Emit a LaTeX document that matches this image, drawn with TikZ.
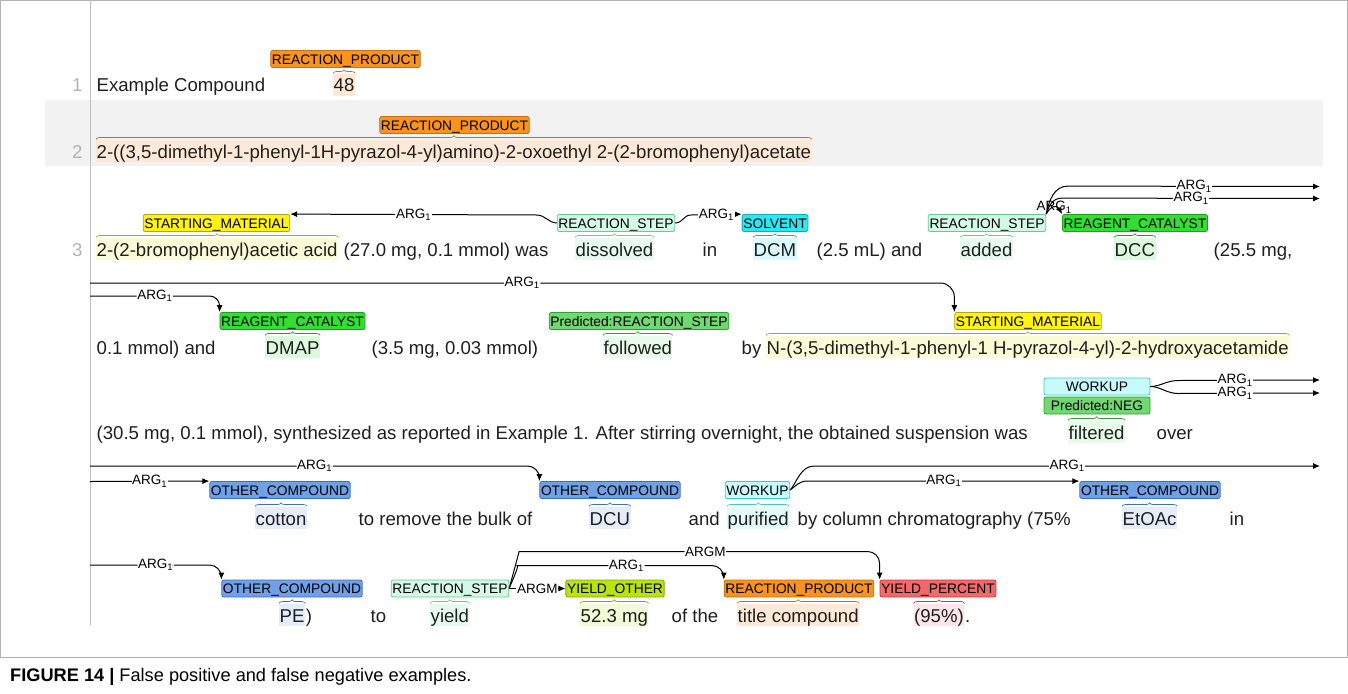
\documentclass[tikz,border=0pt]{standalone}
\usepackage{fontspec}
\setmainfont{Liberation Sans}
\usetikzlibrary{decorations.pathreplacing, arrows.meta}
\newcommand{\txtsize}{\fontsize{18.6}{20}\selectfont}
\newcommand{\lblsize}{\fontsize{13.8}{15}\selectfont}
\newcommand{\argsize}{\fontsize{13.5}{14}\selectfont}
\newcommand{\argone}{ARG\textsubscript{1}}

\definecolor{rpfill}{RGB}{247,147,30}  \definecolor{rpline}{RGB}{196,112,24}  \definecolor{hlrp}{RGB}{253,233,214}
\definecolor{smfill}{RGB}{255,242,20}  \definecolor{smline}{RGB}{176,166,20}  \definecolor{hlsm}{RGB}{252,251,216}
\definecolor{rsfill}{RGB}{214,248,230} \definecolor{rsline}{RGB}{90,210,140}  \definecolor{hlrs}{RGB}{232,250,240}
\definecolor{svfill}{RGB}{40,232,242}  \definecolor{svline}{RGB}{20,170,190}  \definecolor{hlsv}{RGB}{218,249,252}
\definecolor{rcfill}{RGB}{50,222,50}   \definecolor{rcline}{RGB}{30,160,30}   \definecolor{hlrc}{RGB}{222,250,222}
\definecolor{prfill}{RGB}{112,216,112} \definecolor{prline}{RGB}{50,160,50}   \definecolor{hlpr}{RGB}{232,250,232}
\definecolor{wkfill}{RGB}{200,250,250} \definecolor{wkline}{RGB}{60,206,206}  \definecolor{hlwk}{RGB}{226,250,248}
\definecolor{ocfill}{RGB}{112,160,230} \definecolor{ocline}{RGB}{60,110,200}  \definecolor{hloc}{RGB}{230,237,250}
\definecolor{yofill}{RGB}{186,226,20}  \definecolor{yoline}{RGB}{130,170,0}   \definecolor{hlyo}{RGB}{242,250,216}
\definecolor{ypfill}{RGB}{240,106,106} \definecolor{ypline}{RGB}{200,60,60}   \definecolor{hlyp}{RGB}{252,230,232}

\begin{document}
\begin{tikzpicture}[x=1pt,y=-1pt]
\tikzstyle{txt}=[anchor=base west, inner xsep=0.5pt, inner ysep=2.5pt, text height=16pt, text depth=1pt, font=\txtsize, text=black!88]
\tikzstyle{lno}=[anchor=base east, font=\txtsize, text=gray!60]
\tikzstyle{lbl}=[rectangle, rounded corners=2pt, line width=0.8pt, inner xsep=1.2pt, inner ysep=0pt,
                 minimum height=17pt, text height=10pt, text depth=0pt, font=\lblsize]
\tikzstyle{argl}=[fill=white, inner sep=0.6pt, font=\argsize]
\tikzstyle{arc}=[line width=1pt, -{Latex[length=7pt,width=6pt]}]
\tikzstyle{brc}=[line width=0.7pt, decorate, decoration={brace, amplitude=3.5pt}]

\useasboundingbox (0,0) rectangle (1348,693);
\draw[gray!60] (0.5,0.5) rectangle (1347.5,657);
\fill[gray!10] (45,100) rectangle (1323,166);
\draw[gray!50] (90,0.5) -- (90,625);

% line 1
\node[lno] (n1) at (86,92) {1};
\node[txt] (t1a) at (96,92) {Example Compound};
\node[txt, fill=hlrp] (t1b) at (333,92) {48};
\node[lbl, fill=rpfill, draw=rpline] (rp1) at (345.5,59) {REACTION\_PRODUCT};
\draw[brc, rpline] (t1b.north west) -- (t1b.north east);

% line 2
\node[lno] (n2) at (86,158) {2};
\node[txt, fill=hlrp] (t2a) at (96,158) {2-((3,5-dimethyl-1-phenyl-1H-pyrazol-4-yl)amino)-2-oxoethyl 2-(2-bromophenyl)acetate};
\node[lbl, fill=rpfill, draw=rpline] (rp2) at (454.5,125) {REACTION\_PRODUCT};
\draw[brc, rpline] (t2a.north west) -- (t2a.north east);

% line 3
\node[lno] (n3) at (86,256) {3};
\node[txt, fill=hlsm] (t3a) at (96,256) {2-(2-bromophenyl)acetic acid};
\node[txt] (t3b) at (343,256) {(27.0 mg, 0.1 mmol) was};
\node[txt, fill=hlrs] (t3c) at (575,256) {dissolved};
\node[txt] (t3d) at (702,256) {in};
\node[txt, fill=hlsv] (t3e) at (753,256) {DCM};
\node[txt] (t3f) at (816,256) {(2.5 mL) and};
\node[txt, fill=hlrs] (t3g) at (960,256) {added};
\node[txt, fill=hlrc] (t3h) at (1114,256) {DCC};
\node[txt] (t3i) at (1213,256) {(25.5 mg,};
\node[lbl, fill=smfill, draw=smline] (sm1) at (216.5,223) {STARTING\_MATERIAL};
\node[lbl, fill=rsfill, draw=rsline] (rs1) at (616,223) {REACTION\_STEP};
\node[lbl, fill=svfill, draw=svline] (sv1) at (775,223) {SOLVENT};
\node[lbl, fill=rsfill, draw=rsline] (rs2) at (987,223) {REACTION\_STEP};
\node[lbl, fill=rcfill, draw=rcline] (rc1) at (1135,223) {REAGENT\_CATALYST};
\draw[brc, smline] (t3a.north west) -- (t3a.north east);
\draw[brc, rsline] (t3c.north west) -- (t3c.north east);
\draw[brc, svline] (t3e.north west) -- (t3e.north east);
\draw[brc, rsline] (t3g.north west) -- (t3g.north east);
\draw[brc, rcline] (t3h.north west) -- (t3h.north east);
\coordinate (r3o1) at (1320,186.5);
\coordinate (r3o2) at (1320,198.5);
\draw[arc] (rs1.west) .. controls +(-8,0) and +(8,0) .. ++(-20,-8) -- node[argl]{\argone} (sm1.north east);
\draw[arc] (rs1.east) .. controls +(8,0) and +(-8,0) .. ++(16,-8) -- node[argl]{\argone} (sv1.north west);
\draw[arc] (rs2.north east) .. controls +(3,-14) and +(-14,0) .. ++(22,-28) -- node[argl]{\argone} (r3o1);
\draw[arc] (rs2.north east) .. controls +(3,-8) and +(-10,0) .. ++(16,-16) -- node[argl]{\argone} (r3o2);
\draw[arc] (rs2.north east) .. controls +(5,-9) and +(-5,-9) .. node[argl, fill=none, pos=0.5]{\argone} (rc1.north west);

% line 3, second row
\node[txt] (t4a) at (96,354) {0.1 mmol) and};
\node[txt, fill=hlrc] (t4b) at (265,354) {DMAP};
\node[txt] (t4c) at (371,354) {(3.5 mg, 0.03 mmol)};
\node[txt, fill=hlpr] (t4d) at (603,354) {followed};
\node[txt] (t4e) at (741,354) {by};
\node[txt, fill=hlsm] (t4f) at (766,354) {N-(3,5-dimethyl-1-phenyl-1 H-pyrazol-4-yl)-2-hydroxyacetamide};
\node[lbl, fill=rcfill, draw=rcline] (rc2) at (292.5,321) {REAGENT\_CATALYST};
\node[lbl, fill=prfill, draw=prline] (pr1) at (639,321) {Predicted:REACTION\_STEP};
\node[lbl, fill=smfill, draw=smline] (sm2) at (1028,321) {STARTING\_MATERIAL};
\draw[brc, rcline] (t4b.north west) -- (t4b.north east);
\draw[brc, prline] (t4d.north west) -- (t4d.north east);
\draw[brc, smline] (t4f.north west) -- (t4f.north east);
\coordinate (m4a) at (90,283);
\coordinate (m4b) at (90,296);
\draw[arc, rounded corners=14pt] (m4a) -| node[argl, pos=0.25]{\argone} (sm2.north west);
\draw[arc, rounded corners=10pt] (m4b) -| node[argl, pos=0.25]{\argone} (rc2.north west);

% line 3, third row
\node[txt] (t5a) at (96,439) {(30.5 mg, 0.1 mmol), synthesized as reported in Example 1. After stirring overnight, the obtained suspension was};
\node[txt, fill=hlpr] (t5b) at (1068,439) {filtered};
\node[txt] (t5c) at (1156,439) {over};
\node[lbl, fill=wkfill, draw=wkline, minimum width=106pt] (wk1) at (1097,386.5) {WORKUP};
\node[lbl, fill=prfill, draw=prline, minimum width=106pt] (ng1) at (1097,405.5) {Predicted:NEG};
\draw[brc, prline] (t5b.north west) -- (t5b.north east);
\coordinate (r5o1) at (1320,380);
\coordinate (r5o2) at (1320,393);
\draw[arc] (wk1.east) .. controls +(10,0) and +(-12,0) .. ++(28,-6) -- node[argl, pos=0.4]{\argone} (r5o1);
\draw[arc] (wk1.east) .. controls +(10,0) and +(-12,0) .. ++(28,7) -- node[argl, pos=0.4]{\argone} (r5o2);

% line 3, fourth row
\node[txt, fill=hloc] (t6a) at (255,525) {cotton};
\node[txt] (t6b) at (358,525) {to remove the bulk of};
\node[txt, fill=hloc] (t6c) at (589,525) {DCU};
\node[txt] (t6d) at (688,525) {and};
\node[txt, fill=hlwk] (t6e) at (727,525) {purified};
\node[txt] (t6f) at (797,525) {by column chromatography (75\%};
\node[txt, fill=hloc] (t6g) at (1122,525) {EtOAc};
\node[txt] (t6h) at (1229,525) {in};
\node[lbl, fill=ocfill, draw=ocline] (oc1) at (280,490) {OTHER\_COMPOUND};
\node[lbl, fill=ocfill, draw=ocline] (oc2) at (610,490) {OTHER\_COMPOUND};
\node[lbl, fill=wkfill, draw=wkline] (wk2) at (757.5,490) {WORKUP};
\node[lbl, fill=ocfill, draw=ocline] (oc3) at (1150,490) {OTHER\_COMPOUND};
\draw[brc, ocline] (t6a.north west) -- (t6a.north east);
\draw[brc, ocline] (t6c.north west) -- (t6c.north east);
\draw[brc, wkline] (t6e.north west) -- (t6e.north east);
\draw[brc, ocline] (t6g.north west) -- (t6g.north east);
\coordinate (m6a) at (90,466);
\coordinate (m6b) at (90,481.5);
\coordinate (r6o1) at (1320,466);
\draw[arc, rounded corners=12pt] (m6a) -| node[argl, pos=0.25]{\argone} (oc2.north west);
\draw[arc] (m6b) -- node[argl]{\argone} (oc1.north west);
\draw[arc] (wk2.east) .. controls +(6,-6) and +(-14,0) .. ++(24,-24) -- node[argl]{\argone} (r6o1);
\draw[arc] (wk2.east) .. controls +(6,-4) and +(-10,0) .. ++(18,-9) -- node[argl]{\argone} (oc3.north west);

% line 3, fifth row
\node[txt, fill=hloc] (t7a) at (279,622) {PE};
\node[txt, anchor=base west] (t7b) at (t7a.base east) {)};
\node[txt] (t7c) at (370,622) {to};
\node[txt, fill=hlrs] (t7d) at (430,622) {yield};
\node[txt, fill=hlyo] (t7e) at (580,622) {52.3 mg};
\node[txt] (t7f) at (671,622) {of the};
\node[txt, fill=hlrp] (t7g) at (737,622) {title compound};
\node[txt, fill=hlyp] (t7h) at (913.5,622) {(95\%)};
\node[txt, anchor=base west] (t7i) at (t7h.base east) {.};
\node[lbl, fill=ocfill, draw=ocline] (oc4) at (292,588.5) {OTHER\_COMPOUND};
\node[lbl, fill=rsfill, draw=rsline] (rs3) at (450,588.5) {REACTION\_STEP};
\node[lbl, fill=yofill, draw=yoline] (yo1) at (615,588.5) {YIELD\_OTHER};
\node[lbl, fill=rpfill, draw=rpline] (rp3) at (799,588.5) {REACTION\_PRODUCT};
\node[lbl, fill=ypfill, draw=ypline] (yp1) at (938,588.5) {YIELD\_PERCENT};
\draw[brc, ocline] (t7a.north west) -- (t7a.north east);
\draw[brc, rsline] (t7d.north west) -- (t7d.north east);
\draw[brc, yoline] (t7e.north west) -- (t7e.north east);
\draw[brc, rpline] (t7g.north west) -- (t7g.north east);
\draw[brc, ypline] (t7h.north west) -- (t7h.north east);
\coordinate (m7a) at (90,565);
\draw[arc, rounded corners=12pt] (m7a) -| node[argl, pos=0.25]{\argone} (oc4.north west);
\draw[arc, rounded corners=12pt] (rs3.east) .. controls +(5,-18) and +(-12,0) .. ++(22,-37) -| node[argl, pos=0.25]{ARGM} (yp1.north west);
\draw[arc, rounded corners=12pt] (rs3.east) .. controls +(5,-12) and +(-10,0) .. ++(20,-23) -| node[argl, pos=0.25]{\argone} (rp3.north west);
\draw[arc] (rs3.east) -- node[argl]{ARGM} (yo1.west);

% caption
\node[anchor=base west, font=\fontsize{18.2}{20}\selectfont, inner sep=0pt] (cap) at (10,681)
  {\textbf{FIGURE 14 |} False positive and false negative examples.};
\end{tikzpicture}
\end{document}
